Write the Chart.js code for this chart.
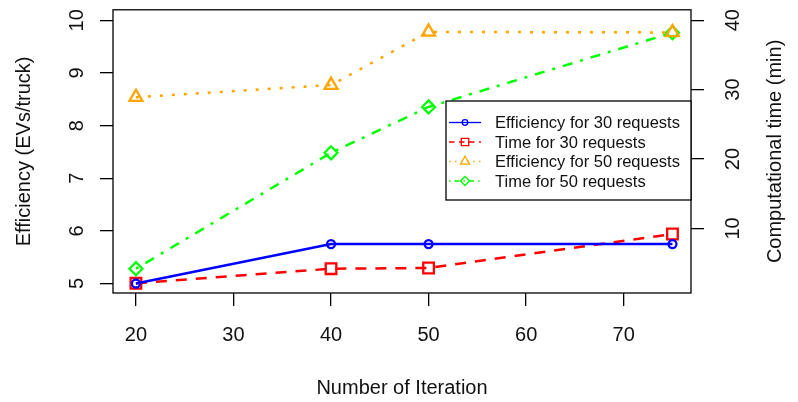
<!DOCTYPE html>
<html>
<head>
<meta charset="utf-8">
<script src="https://cdn.jsdelivr.net/npm/chart.js@4/dist/chart.umd.min.js"></script>
<style>
  body { margin: 0; background: #fff; }
  canvas { display: block; }
</style>
</head>
<body>
<canvas id="efficiency" width="798" height="402"></canvas>
<script>
const ctxEff = document.getElementById("efficiency");

// iterations run and the measured values for each
const iterations = [20, 40, 50, 75];
const effFor30 = [5.0, 5.75, 5.75, 5.75];
const timeFor30 = [2.1, 4.2, 4.3, 9.2];
const effFor50 = [8.54, 8.77, 9.78, 9.77];
const timeFor50 = [4.2, 20.9, 27.5, 38.2];

// axis tick values
const xTicks = [20, 30, 40, 50, 60, 70];
const effTicks = [5, 6, 7, 8, 9, 10];
const timeTicks = [10, 20, 30, 40];

const FONT = '"Liberation Sans", Arial, sans-serif';

const toPoints = (ys) => iterations.map((x, i) => ({ x: x, y: ys[i] }));

const series = (label, ys, axis, color, dash, style, radius) => ({
    label: label,
    data: toPoints(ys),
    yAxisID: axis,
    borderColor: color,
    borderWidth: 2.5,
    borderDash: dash,
    pointStyle: style,
    pointRadius: radius,
    pointBorderWidth: 2.3,
    pointBorderColor: color,
    pointBackgroundColor: 'transparent',
    tension: 0,
    fill: false
});

// rotated text (reads bottom to top)
const vText = (ctx, text, x, y) => {
    ctx.save();
    ctx.translate(x, y);
    ctx.rotate(-Math.PI / 2);
    ctx.textAlign = 'center';
    ctx.textBaseline = 'middle';
    ctx.fillText(text, 0, 0);
    ctx.restore();
};

const drawMarker = (ctx, ds, x, y, scale) => {
    ctx.fillStyle = 'transparent';
    ctx.strokeStyle = ds.borderColor;
    Chart.helpers.drawPoint(ctx, {
        pointStyle: ds.pointStyle,
        radius: ds.pointRadius * scale,
        borderWidth: 1.4,
        rotation: 0
    }, x, y);
};

const drawLegend = (chart) => {
    const ctx = chart.ctx;
    const left = 446, top = 101, right = chart.chartArea.right, bottom = 200;
    ctx.save();
    ctx.fillStyle = '#fff';
    ctx.fillRect(left, top, right - left, bottom - top);
    ctx.strokeStyle = '#000';
    ctx.lineWidth = 1.3;
    ctx.strokeRect(left, top, right - left, bottom - top);

    chart.data.datasets.forEach((ds, i) => {
        const y = 122.5 + i * 19.5;
        ctx.strokeStyle = ds.borderColor;
        ctx.lineWidth = 1.3;
        ctx.setLineDash((ds.borderDash || []).map(d => d * 0.5));
        ctx.beginPath();
        ctx.moveTo(449, y);
        ctx.lineTo(481, y);
        ctx.stroke();
        ctx.setLineDash([]);
        drawMarker(ctx, ds, 465, y, 0.7);

        ctx.fillStyle = '#111';
        ctx.font = '16.5px ' + FONT;
        ctx.textAlign = 'left';
        ctx.textBaseline = 'middle';
        ctx.fillText(ds.label, 495, y + 1);
    });
    ctx.restore();
};

const baseAxes = {
    id: 'baseAxes',
    afterDraw(chart) {
        const ctx = chart.ctx;
        const area = chart.chartArea;
        const sx = chart.scales.x, sy = chart.scales.y, sy1 = chart.scales.y1;

        ctx.save();
        ctx.strokeStyle = '#000';
        ctx.lineWidth = 1.3;
        ctx.strokeRect(area.left, area.top, area.right - area.left, area.bottom - area.top);

        ctx.fillStyle = '#111';
        ctx.font = '20px ' + FONT;
        ctx.textAlign = 'center';
        ctx.textBaseline = 'middle';
        xTicks.forEach(v => ctx.fillText(String(v), sx.getPixelForValue(v), 335));
        effTicks.forEach(v => vText(ctx, String(v), 77, sy.getPixelForValue(v)));
        timeTicks.forEach(v => vText(ctx, String(v), 733, sy1.getPixelForValue(v)));

        ctx.fillText('Number of Iteration', (area.left + area.right) / 2, 388);
        const midY = (area.top + area.bottom) / 2;
        vText(ctx, 'Efficiency (EVs/truck)', 24, midY);
        vText(ctx, 'Computational time (min)', 775, midY);
        ctx.restore();

        drawLegend(chart);
    }
};

const tickGrid = {
    drawOnChartArea: false,
    drawTicks: true,
    tickLength: 13,
    color: '#000',
    lineWidth: 1.3
};

const graphEff = new Chart(ctxEff, {
    type: 'line',
    data: {
        datasets: [
            series('Efficiency for 30 requests', effFor30, 'y', '#0000ff', [], 'circle', 4),
            series('Time for 30 requests', timeFor30, 'y1', '#ff0000', [11, 9], 'rect', 7.5),
            series('Efficiency for 50 requests', effFor50, 'y', '#ffa500', [3, 9], 'triangle', 7.5),
            series('Time for 50 requests', timeFor50, 'y1', '#00ff00', [3, 8, 10, 8], 'rectRot', 6.5)
        ]
    },
    options: {
        responsive: false,
        animation: false,
        layout: {
            padding: { top: 6, left: 0, right: 0, bottom: 0 }
        },
        plugins: {
            legend: { display: false },
            tooltip: { enabled: false }
        },
        scales: {
            x: {
                type: 'linear',
                min: 17.65,
                max: 76.9,
                afterBuildTicks: s => { s.ticks = xTicks.map(v => ({ value: v })); },
                afterFit: s => { s.height = 109; },
                ticks: { display: false },
                grid: tickGrid,
                border: { display: false }
            },
            y: {
                position: 'left',
                min: 4.82,
                max: 10.2,
                afterBuildTicks: s => { s.ticks = effTicks.map(v => ({ value: v })); },
                afterFit: s => { s.width = 113; },
                ticks: { display: false },
                grid: tickGrid,
                border: { display: false }
            },
            y1: {
                position: 'right',
                min: 0.7,
                max: 41.5,
                afterBuildTicks: s => { s.ticks = timeTicks.map(v => ({ value: v })); },
                afterFit: s => { s.width = 107; },
                ticks: { display: false },
                grid: tickGrid,
                border: { display: false }
            }
        }
    },
    plugins: [baseAxes]
});
</script>
</body>
</html>
